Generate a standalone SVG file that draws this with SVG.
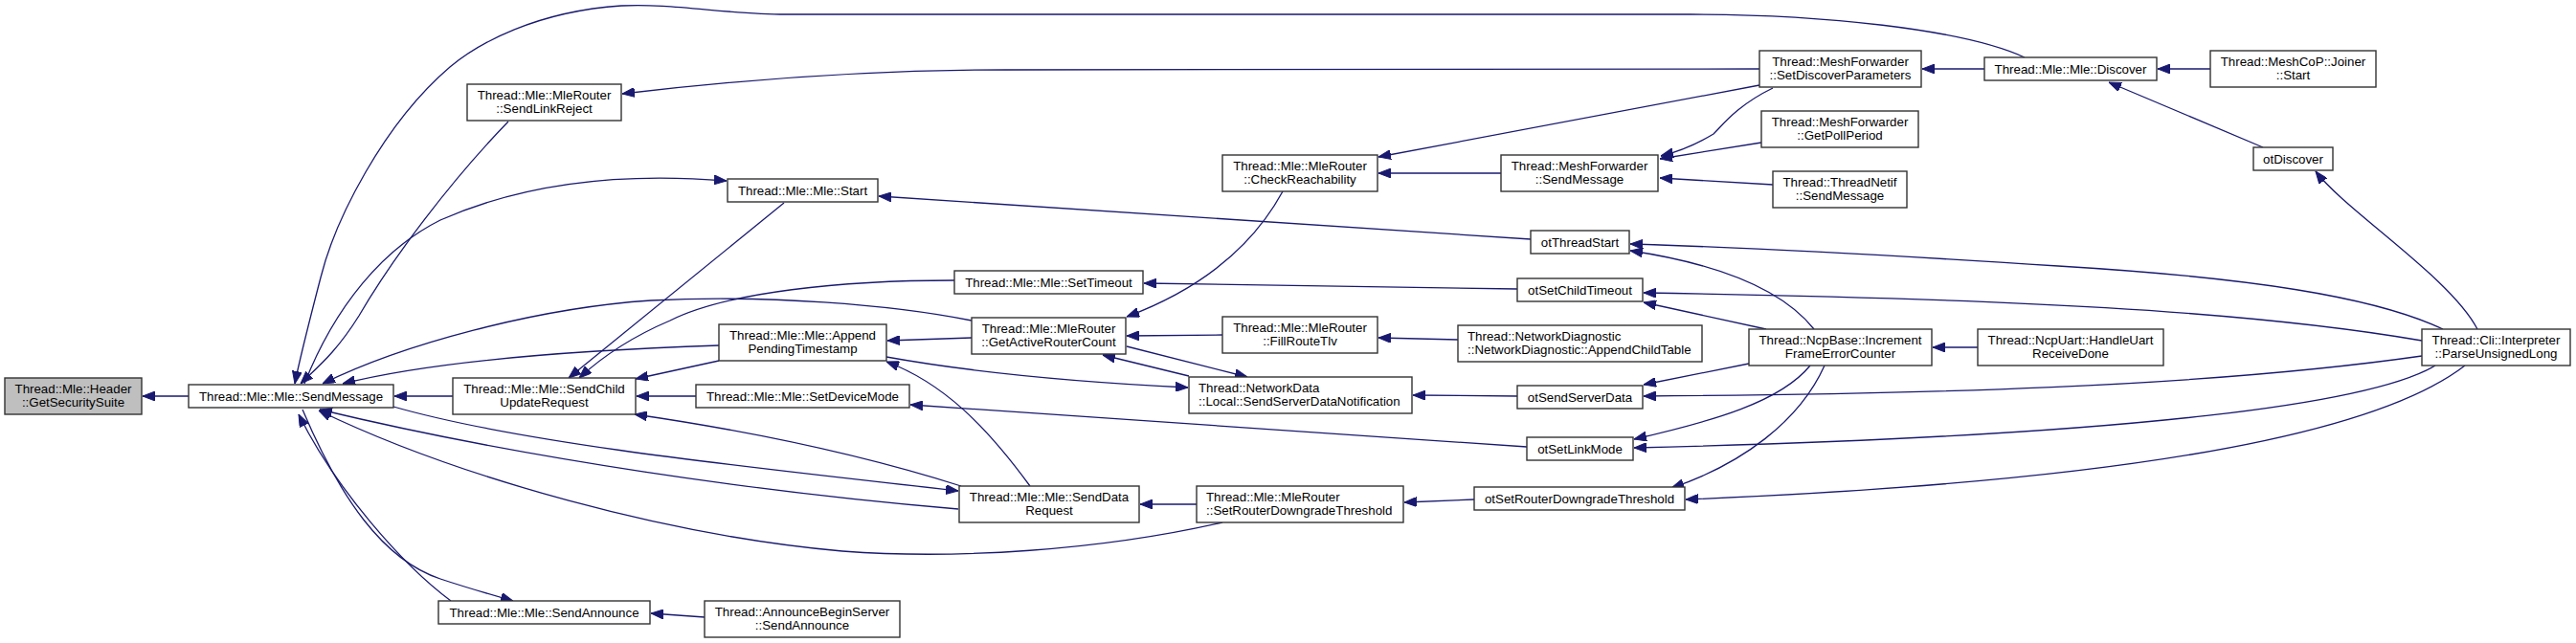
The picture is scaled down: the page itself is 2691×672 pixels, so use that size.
<svg xmlns="http://www.w3.org/2000/svg" width="2691" height="672" viewBox="0 0 2691 672">
<style>
.n rect{fill:#fff;stroke:#333;stroke-width:1.4}
.n text{font-family:"Liberation Sans",Arial,sans-serif;font-size:13.3px;fill:#000;text-anchor:middle}
.n text.l{text-anchor:start}
#edges path{fill:none;stroke:#191970;stroke-width:1.3;marker-end:url(#ah)}
</style>
<defs>
<marker id="ah" viewBox="0 0 13 10" refX="13" refY="5" markerWidth="13" markerHeight="10" markerUnits="userSpaceOnUse" orient="auto">
<path d="M0,0 L13,5 L0,10 z" fill="#191970" stroke="#191970" stroke-width="1"/>
</marker>
</defs>
<rect width="2691" height="672" fill="#fff"/>
<g id="edges">
<path d="M197,414 L149,414"/>
<path d="M473,414 L412,414"/>
<path d="M727,414 L665,414"/>
<path d="M2115,60 C2050,30 1900,15 1766,15 L820,15 C760,15 700,3 649,6 C560,12 500,45 470,70 C400,130 350,230 335,290 C322,340 312,380 308,401"/>
<path d="M531,127 C470,190 410,270 375,330 C350,370 330,385 314,401"/>
<path d="M318,401 C350,320 400,260 460,230 C550,190 650,180 759,189"/>
<path d="M1015,335 C930,318 800,308 680,314 C560,322 420,360 337,401"/>
<path d="M751,361 C600,366 450,378 358,401"/>
<path d="M751,377 L664,396"/>
<path d="M819,212 L594,395"/>
<path d="M997,293 C880,293 760,305 700,335 C660,352 630,372 605,395"/>
<path d="M1004,508 C900,475 780,450 663,433"/>
<path d="M411,425 C550,465 800,490 1001,513"/>
<path d="M1001,532 C800,515 550,480 334,428"/>
<path d="M1277,546 C1150,575 1000,585 880,576 C700,560 480,500 333,429"/>
<path d="M316,428 C355,520 400,585 460,605 C490,615 515,622 536,628"/>
<path d="M471,628 C420,590 350,510 312,433"/>
<path d="M736,645 L680,641"/>
<path d="M1599,250 L918,205"/>
<path d="M1585,302 L1195,296"/>
<path d="M1015,353 L927,356"/>
<path d="M1277,350 L1177,351"/>
<path d="M1523,355 L1440,353"/>
<path d="M1340,200 C1310,255 1260,300 1177,331"/>
<path d="M1177,362 L1303,394"/>
<path d="M1242,393 L1152,371"/>
<path d="M926,373 C1020,390 1140,400 1241,405"/>
<path d="M1076,508 C1030,445 985,400 926,378"/>
<path d="M1585,414 L1476,413"/>
<path d="M1595,467 L951,423"/>
<path d="M1540,522 L1467,525"/>
<path d="M1250,527 L1191,527"/>
<path d="M1838,72 L1050,73 C900,73 760,85 650,98"/>
<path d="M2073,72 L2008,72"/>
<path d="M2309,72 L2254,72"/>
<path d="M2364,154 L2203,86"/>
<path d="M2588,344 C2560,290 2450,220 2419,179"/>
<path d="M1838,89 L1440,164"/>
<path d="M1568,181 L1440,181"/>
<path d="M1852,92 C1815,110 1800,130 1790,140 C1770,152 1755,158 1735,163"/>
<path d="M1840,149 L1734,166"/>
<path d="M1852,193 L1734,186"/>
<path d="M2552,344 C2480,310 2350,290 2150,278 C1950,265 1800,258 1703,255"/>
<path d="M1895,344 C1860,300 1790,275 1703,262"/>
<path d="M1845,344 L1717,316"/>
<path d="M2530,356 C2350,325 2100,312 1717,306"/>
<path d="M2066,363 L2019,363"/>
<path d="M1827,380 L1717,402"/>
<path d="M2530,372 C2300,405 2000,412 1717,414"/>
<path d="M1891,382 C1860,420 1790,440 1707,459"/>
<path d="M2544,382 C2480,420 2250,455 1707,468"/>
<path d="M1906,382 C1880,440 1820,485 1746,510"/>
<path d="M2575,382 C2500,440 2300,500 1761,522"/>
</g>
<g id="n0" class="n"><rect x="5" y="395" width="143" height="38" style="fill:#bfbfbf"/><text x="76.5" y="411">Thread::Mle::Header</text><text x="76.5" y="425">::GetSecuritySuite</text></g>
<g id="n1" class="n"><rect x="197" y="402" width="214" height="24"/><text x="304" y="418.5">Thread::Mle::Mle::SendMessage</text></g>
<g id="n2" class="n"><rect x="488" y="88" width="161" height="38"/><text x="568.5" y="104">Thread::Mle::MleRouter</text><text x="568.5" y="118">::SendLinkReject</text></g>
<g id="n3" class="n"><rect x="760" y="187" width="157" height="24"/><text x="838.5" y="203.5">Thread::Mle::Mle::Start</text></g>
<g id="n4" class="n"><rect x="751" y="339" width="175" height="38"/><text x="838.5" y="355">Thread::Mle::Mle::Append</text><text x="838.5" y="369">PendingTimestamp</text></g>
<g id="n5" class="n"><rect x="473" y="395" width="191" height="38"/><text x="568.5" y="411">Thread::Mle::Mle::SendChild</text><text x="568.5" y="425">UpdateRequest</text></g>
<g id="n6" class="n"><rect x="997" y="283" width="197" height="24"/><text x="1095.5" y="299.5">Thread::Mle::Mle::SetTimeout</text></g>
<g id="n7" class="n"><rect x="727" y="402" width="223" height="24"/><text x="838.5" y="418.5">Thread::Mle::Mle::SetDeviceMode</text></g>
<g id="n8" class="n"><rect x="1002" y="508" width="188" height="38"/><text x="1096" y="524">Thread::Mle::Mle::SendData</text><text x="1096" y="538">Request</text></g>
<g id="n9" class="n"><rect x="458" y="628" width="221" height="24"/><text x="568.5" y="644.5">Thread::Mle::Mle::SendAnnounce</text></g>
<g id="n10" class="n"><rect x="736" y="628" width="204" height="38"/><text x="838" y="644">Thread::AnnounceBeginServer</text><text x="838" y="658">::SendAnnounce</text></g>
<g id="n11" class="n"><rect x="1015" y="332" width="161" height="38"/><text x="1095.5" y="348">Thread::Mle::MleRouter</text><text x="1095.5" y="362">::GetActiveRouterCount</text></g>
<g id="n12" class="n"><rect x="1277" y="162" width="162" height="38"/><text x="1358" y="178">Thread::Mle::MleRouter</text><text x="1358" y="192">::CheckReachability</text></g>
<g id="n13" class="n"><rect x="1277" y="331" width="162" height="38"/><text x="1358" y="347">Thread::Mle::MleRouter</text><text x="1358" y="361">::FillRouteTlv</text></g>
<g id="n14" class="n"><rect x="1242" y="394" width="233" height="38"/><text class="l" x="1252" y="410">Thread::NetworkData</text><text class="l" x="1252" y="424">::Local::SendServerDataNotification</text></g>
<g id="n15" class="n"><rect x="1250" y="508" width="216" height="38"/><text class="l" x="1260" y="524">Thread::Mle::MleRouter</text><text class="l" x="1260" y="538">::SetRouterDowngradeThreshold</text></g>
<g id="n16" class="n"><rect x="1838" y="53" width="169" height="38"/><text x="1922.5" y="69">Thread::MeshForwarder</text><text x="1922.5" y="83">::SetDiscoverParameters</text></g>
<g id="n17" class="n"><rect x="1568" y="162" width="164" height="38"/><text x="1650" y="178">Thread::MeshForwarder</text><text x="1650" y="192">::SendMessage</text></g>
<g id="n18" class="n"><rect x="1840" y="116" width="164" height="38"/><text x="1922" y="132">Thread::MeshForwarder</text><text x="1922" y="146">::GetPollPeriod</text></g>
<g id="n19" class="n"><rect x="1852" y="179" width="140" height="38"/><text x="1922" y="195">Thread::ThreadNetif</text><text x="1922" y="209">::SendMessage</text></g>
<g id="n20" class="n"><rect x="1599" y="241" width="103" height="24"/><text x="1650.5" y="257.5">otThreadStart</text></g>
<g id="n21" class="n"><rect x="1585" y="291" width="131" height="24"/><text x="1650.5" y="307.5">otSetChildTimeout</text></g>
<g id="n22" class="n"><rect x="1523" y="340" width="255" height="38"/><text class="l" x="1533" y="356">Thread::NetworkDiagnostic</text><text class="l" x="1533" y="370">::NetworkDiagnostic::AppendChildTable</text></g>
<g id="n23" class="n"><rect x="1585" y="403" width="131" height="24"/><text x="1650.5" y="419.5">otSendServerData</text></g>
<g id="n24" class="n"><rect x="1595" y="457" width="111" height="24"/><text x="1650.5" y="473.5">otSetLinkMode</text></g>
<g id="n25" class="n"><rect x="1540" y="509" width="220" height="24"/><text x="1650" y="525.5">otSetRouterDowngradeThreshold</text></g>
<g id="n26" class="n"><rect x="2073" y="60" width="180" height="24"/><text x="2163" y="76.5">Thread::Mle::Mle::Discover</text></g>
<g id="n27" class="n"><rect x="2309" y="53" width="173" height="38"/><text x="2395.5" y="69">Thread::MeshCoP::Joiner</text><text x="2395.5" y="83">::Start</text></g>
<g id="n28" class="n"><rect x="2354" y="154" width="83" height="24"/><text x="2395.5" y="170.5">otDiscover</text></g>
<g id="n29" class="n"><rect x="1827" y="344" width="191" height="38"/><text x="1922.5" y="360">Thread::NcpBase::Increment</text><text x="1922.5" y="374">FrameErrorCounter</text></g>
<g id="n30" class="n"><rect x="2066" y="344" width="194" height="38"/><text x="2163" y="360">Thread::NcpUart::HandleUart</text><text x="2163" y="374">ReceiveDone</text></g>
<g id="n31" class="n"><rect x="2530" y="344" width="155" height="38"/><text x="2607.5" y="360">Thread::Cli::Interpreter</text><text x="2607.5" y="374">::ParseUnsignedLong</text></g>
</svg>
